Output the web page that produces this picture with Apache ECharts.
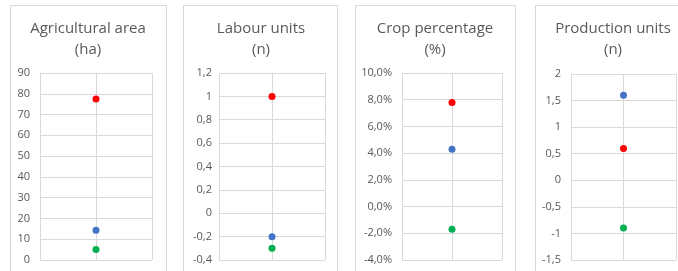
<!DOCTYPE html>
<html>
<head>
<meta charset="utf-8">
<script src="https://cdn.jsdelivr.net/npm/echarts@6/dist/echarts.min.js"></script>
<style>html,body{margin:0;padding:0;background:#fff}#c{width:678px;height:271px}</style>
</head>
<body>
<div id="c"></div>
<script>
var titles = ["Agricultural area\n(ha)", "Labour units\n(n)", "Crop percentage\n(%)", "Production units\n(n)"];
var redValues = [77.5, 1.0, 7.8, 0.6];
var blueValues = [14.3, -0.2, 4.3, 1.6];
var greenValues = [5.1, -0.3, -1.7, -0.9];
var yMin = [0, -0.4, -4, -1.5];
var yMax = [90, 1.2, 10, 2];
var yInterval = [10, 0.2, 2, 0.5];
var labelKind = ["int", "dec", "pct", "dec"];

var colors = {red: "#FF0000", blue: "#4472C4", green: "#00B050"};
var grids = [
  {left: 40, top: 73, width: 112, height: 187},
  {left: 219, top: 73, width: 106, height: 187},
  {left: 402, top: 73, width: 100, height: 187},
  {left: 571, top: 74, width: 105, height: 186}
];
var panels = [[10, 166], [183, 337], [355, 515], [535, 700]];
var titleCenters = [88, 261, 435, 613];
var labelMargins = [10, 7, 10, 10];

function fmt(kind, v) {
  if (kind === "pct") return v.toFixed(1).replace('.', ',') + '%';
  var r = Math.round(v * 10) / 10;
  return String(r).replace('.', ',');
}

var option = {
  animation: false,
  backgroundColor: "#fff",
  title: [], grid: [], xAxis: [], yAxis: [], series: [],
  graphic: []
};
for (var i = 0; i < 4; i++) {
  option.graphic.push({type: 'rect', shape: {x: panels[i][0] + 0.5, y: 5.5, width: panels[i][1] - panels[i][0], height: 300},
    style: {fill: 'none', stroke: '#D9D9D9', lineWidth: 1}, silent: true, z: -1});
  option.title.push({text: titles[i], left: titleCenters[i] - 5, top: 13, textAlign: 'center',
    textStyle: {fontFamily: 'Open Sans', fontWeight: 'normal', fontSize: 15, color: '#595959', lineHeight: 21}});
  option.grid.push(grids[i]);
  option.xAxis.push({type: 'value', gridIndex: i, min: 0, max: 2, interval: 1,
    axisLabel: {show: false}, axisLine: {show: false}, axisTick: {show: false},
    splitLine: {show: true, lineStyle: {color: '#D9D9D9', width: 1}}});
  (function(k){
    option.yAxis.push({type: 'value', gridIndex: k, min: yMin[k], max: yMax[k], interval: yInterval[k],
      axisLine: {show: false}, axisTick: {show: false},
      axisLabel: {fontFamily: 'Open Sans', fontSize: 11, color: '#595959', margin: labelMargins[k],
        formatter: function(v){ return fmt(labelKind[k], v); }},
      splitLine: {show: true, lineStyle: {color: '#D9D9D9', width: 1}}});
  })(i);
  var sets = [[redValues, colors.red], [blueValues, colors.blue], [greenValues, colors.green]];
  sets.forEach(function(s){
    option.series.push({type: 'scatter', xAxisIndex: i, yAxisIndex: i, symbolSize: 7,
      itemStyle: {color: s[1], opacity: 1}, data: [[1, s[0][i]]]});
  });
}
var chart = echarts.init(document.getElementById('c'), null, {renderer: 'canvas'});
chart.setOption(option);
</script>
</body>
</html>
